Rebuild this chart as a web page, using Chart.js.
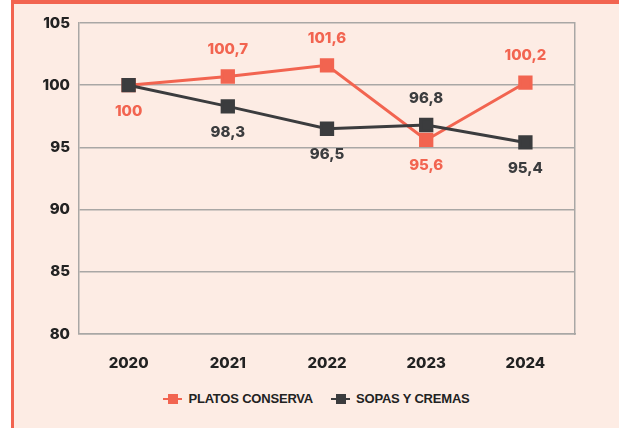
<!DOCTYPE html>
<html>
<head>
<meta charset="utf-8">
<script src="https://cdn.jsdelivr.net/npm/chart.js@4"></script>
<style>
  html, body { margin: 0; padding: 0; background: #fff; }
  body { width: 619px; height: 428px; position: relative; overflow: hidden; }
  .frame {
    position: absolute; left: 11px; top: 0; width: 605px; height: 428px;
    background: #fdece4; border-left: 3px solid #f26450; border-top: 4px solid #f26450;
  }
  .wrap { position: absolute; left: 0; top: 0; width: 605px; height: 366px; }
  .legend {
    position: absolute; left: 0; top: 386px; width: 605px; text-align: center;
    font: bold 13px "Liberation Sans", Arial, sans-serif; color: #222; letter-spacing: -0.2px;
  }
  .legend span.item { display: inline-block; margin: 0 9px; vertical-align: middle; }
  .mk { display: inline-block; position: relative; width: 19px; height: 10px; vertical-align: -1px; margin-right: 6px; }
  .mk i { position: absolute; left: 0; top: 4px; width: 19px; height: 2px; }
  .mk b { position: absolute; left: 5px; top: 0; width: 10px; height: 10px; }
</style>
</head>
<body>
<div class="frame">
  <div class="wrap"><canvas id="chart"></canvas></div>
  <div class="legend" id="legend"></div>
</div>
<script>
// Índice platos conserva vs sopas y cremas (base 2020 = 100)
const years = ['2020', '2021', '2022', '2023', '2024'];
const platosConserva = [100, 100.7, 101.6, 95.6, 100.2];
const sopasCremas = [100, 98.3, 96.5, 96.8, 95.4];
const yTicks = [80, 85, 90, 95, 100, 105];

// posición de la etiqueta: 'up' encima, 'down' debajo, null sin etiqueta
const platosLabelPos = ['down', 'up', 'up', 'down', 'up'];
const sopasLabelPos = [null, 'down', 'down', 'up', 'down'];

const CORAL = '#f26450';
const DARK = '#3b3c3e';
const GRID = '#a9a7a5';
const FONT = 'Inter, "Liberation Sans", Arial, sans-serif';

const fmt = v => String(v).replace('.', ',');

const valueLabels = {
  id: 'valueLabels',
  afterDatasetsDraw(chart) {
    const ctx = chart.ctx;
    ctx.save();
    ctx.font = '800 15px ' + FONT;
    ctx.textAlign = 'center';
    ctx.textBaseline = 'middle';
    chart.data.datasets.forEach((ds, i) => {
      const meta = chart.getDatasetMeta(i);
      meta.data.forEach((pt, j) => {
        const pos = ds.labelPos[j];
        if (!pos) return;
        ctx.fillStyle = ds.borderColor;
        const dy = pos === 'up' ? -27 : 26;
        ctx.fillText(fmt(ds.data[j]), pt.x, pt.y + dy);
      });
    });
    ctx.restore();
  }
};

new Chart(document.getElementById('chart'), {
  type: 'line',
  data: {
    labels: years,
    datasets: [
      {
        label: 'SOPAS Y CREMAS',
        data: sopasCremas,
        labelPos: sopasLabelPos,
        borderColor: DARK,
        backgroundColor: DARK,
        borderWidth: 3,
        pointStyle: 'rect',
        pointRadius: 8,
        pointHoverRadius: 8,
        tension: 0
      },
      {
        label: 'PLATOS CONSERVA',
        data: platosConserva,
        labelPos: platosLabelPos,
        borderColor: CORAL,
        backgroundColor: CORAL,
        borderWidth: 3,
        pointStyle: 'rect',
        pointRadius: 8,
        pointHoverRadius: 8,
        tension: 0
      }
    ]
  },
  options: {
    responsive: true,
    maintainAspectRatio: false,
    animation: false,
    layout: { padding: { top: 19, right: 44, left: 0, bottom: 0 } },
    plugins: {
      legend: { display: false },
      tooltip: { enabled: false }
    },
    scales: {
      x: {
        offset: true,
        grid: { display: false },
        border: { color: GRID, width: 1.5 },
        ticks: { color: '#222', padding: 12, font: { family: FONT, size: 15, weight: '800' } },
        afterFit: s => { s.height = 36; }
      },
      y: {
        min: 80,
        max: 105,
        afterBuildTicks: s => { s.ticks = yTicks.map(v => ({ value: v })); },
        grid: { color: GRID, lineWidth: 1.5, drawTicks: false },
        border: { color: GRID, width: 1.5 },
        ticks: { color: '#222', padding: 9, font: { family: FONT, size: 15, weight: '800' } },
        afterFit: s => { s.width = 65; }
      },
      y2: {
        position: 'right',
        grid: { display: false },
        ticks: { display: false },
        border: { display: true, color: GRID, width: 1.5 },
        afterFit: s => { s.width = 0; }
      }
    }
  },
  plugins: [valueLabels]
});

// leyenda
const legendItems = [['PLATOS CONSERVA', CORAL], ['SOPAS Y CREMAS', DARK]];
document.getElementById('legend').innerHTML = legendItems.map(([t, c]) =>
  '<span class="item"><span class="mk"><i style="background:' + c + '"></i><b style="background:' + c + '"></b></span>' + t + '</span>'
).join('');
</script>
</body>
</html>
